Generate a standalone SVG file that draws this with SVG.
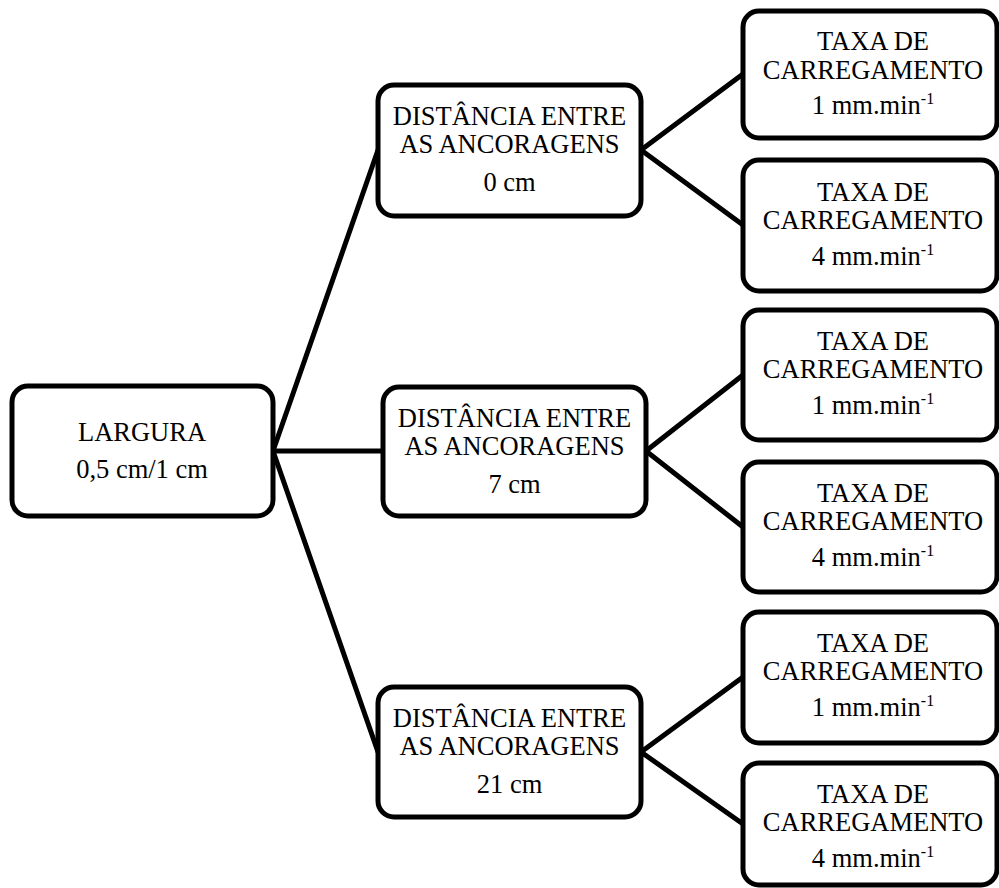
<svg xmlns="http://www.w3.org/2000/svg" width="999" height="888" viewBox="0 0 999 888">
<style>
.box{fill:#fff;stroke:#000;stroke-width:5}
.t{font-family:"Liberation Serif","Times New Roman",serif;font-size:26.5px;fill:#000;text-anchor:middle}
.sup{font-size:16px}
.c{stroke:#000;stroke-width:5;fill:none;stroke-linecap:round}
</style>
<rect width="999" height="888" fill="#fff"/>
<g id="connectors">
<line class="c" x1="273" y1="451" x2="378" y2="150"/>
<line class="c" x1="273" y1="451" x2="383" y2="451"/>
<line class="c" x1="273" y1="451" x2="378" y2="752"/>
<line class="c" x1="641" y1="150" x2="743" y2="74"/>
<line class="c" x1="641" y1="150" x2="743" y2="225"/>
<line class="c" x1="646" y1="451" x2="743" y2="375"/>
<line class="c" x1="646" y1="451" x2="743" y2="527"/>
<line class="c" x1="641" y1="752" x2="743" y2="677"/>
<line class="c" x1="641" y1="752" x2="743" y2="824"/>
</g>
<g id="root">
<rect class="box" x="12" y="386" width="261" height="130" rx="16"/>
<text class="t" x="142" y="441">LARGURA</text>
<text class="t" x="142" y="478">0,5 cm/1 cm</text>
</g>
<g id="dist0">
<rect class="box" x="378" y="85" width="263" height="131" rx="16"/>
<text class="t" x="509.5" y="125">DISTÂNCIA ENTRE</text>
<text class="t" x="509.5" y="153">AS ANCORAGENS</text>
<text class="t" x="509.5" y="191">0 cm</text>
</g>
<g id="dist7">
<rect class="box" x="383" y="387" width="263" height="129" rx="16"/>
<text class="t" x="514.5" y="427">DISTÂNCIA ENTRE</text>
<text class="t" x="514.5" y="455">AS ANCORAGENS</text>
<text class="t" x="514.5" y="493">7 cm</text>
</g>
<g id="dist21">
<rect class="box" x="378" y="687" width="263" height="130" rx="16"/>
<text class="t" x="509.5" y="727">DISTÂNCIA ENTRE</text>
<text class="t" x="509.5" y="755">AS ANCORAGENS</text>
<text class="t" x="509.5" y="793">21 cm</text>
</g>
<g id="taxa1">
<rect class="box" x="743" y="11" width="254" height="127" rx="16"/>
<text class="t" x="873" y="50">TAXA DE</text>
<text class="t" x="873" y="79">CARREGAMENTO</text>
<text class="t" x="873" y="114">1 mm.min<tspan class="sup" dy="-10">-1</tspan></text>
</g>
<g id="taxa2">
<rect class="box" x="743" y="160" width="254" height="131" rx="16"/>
<text class="t" x="873" y="201">TAXA DE</text>
<text class="t" x="873" y="229">CARREGAMENTO</text>
<text class="t" x="873" y="265">4 mm.min<tspan class="sup" dy="-10">-1</tspan></text>
</g>
<g id="taxa3">
<rect class="box" x="743" y="310" width="254" height="130" rx="16"/>
<text class="t" x="873" y="350">TAXA DE</text>
<text class="t" x="873" y="378">CARREGAMENTO</text>
<text class="t" x="873" y="414">1 mm.min<tspan class="sup" dy="-10">-1</tspan></text>
</g>
<g id="taxa4">
<rect class="box" x="743" y="462" width="254" height="130" rx="16"/>
<text class="t" x="873" y="502">TAXA DE</text>
<text class="t" x="873" y="530">CARREGAMENTO</text>
<text class="t" x="873" y="566">4 mm.min<tspan class="sup" dy="-10">-1</tspan></text>
</g>
<g id="taxa5">
<rect class="box" x="743" y="612" width="254" height="131" rx="16"/>
<text class="t" x="873" y="652">TAXA DE</text>
<text class="t" x="873" y="680">CARREGAMENTO</text>
<text class="t" x="873" y="716">1 mm.min<tspan class="sup" dy="-10">-1</tspan></text>
</g>
<g id="taxa6">
<rect class="box" x="743" y="763" width="254" height="122" rx="16"/>
<text class="t" x="873" y="803">TAXA DE</text>
<text class="t" x="873" y="831">CARREGAMENTO</text>
<text class="t" x="873" y="867">4 mm.min<tspan class="sup" dy="-10">-1</tspan></text>
</g>
</svg>
